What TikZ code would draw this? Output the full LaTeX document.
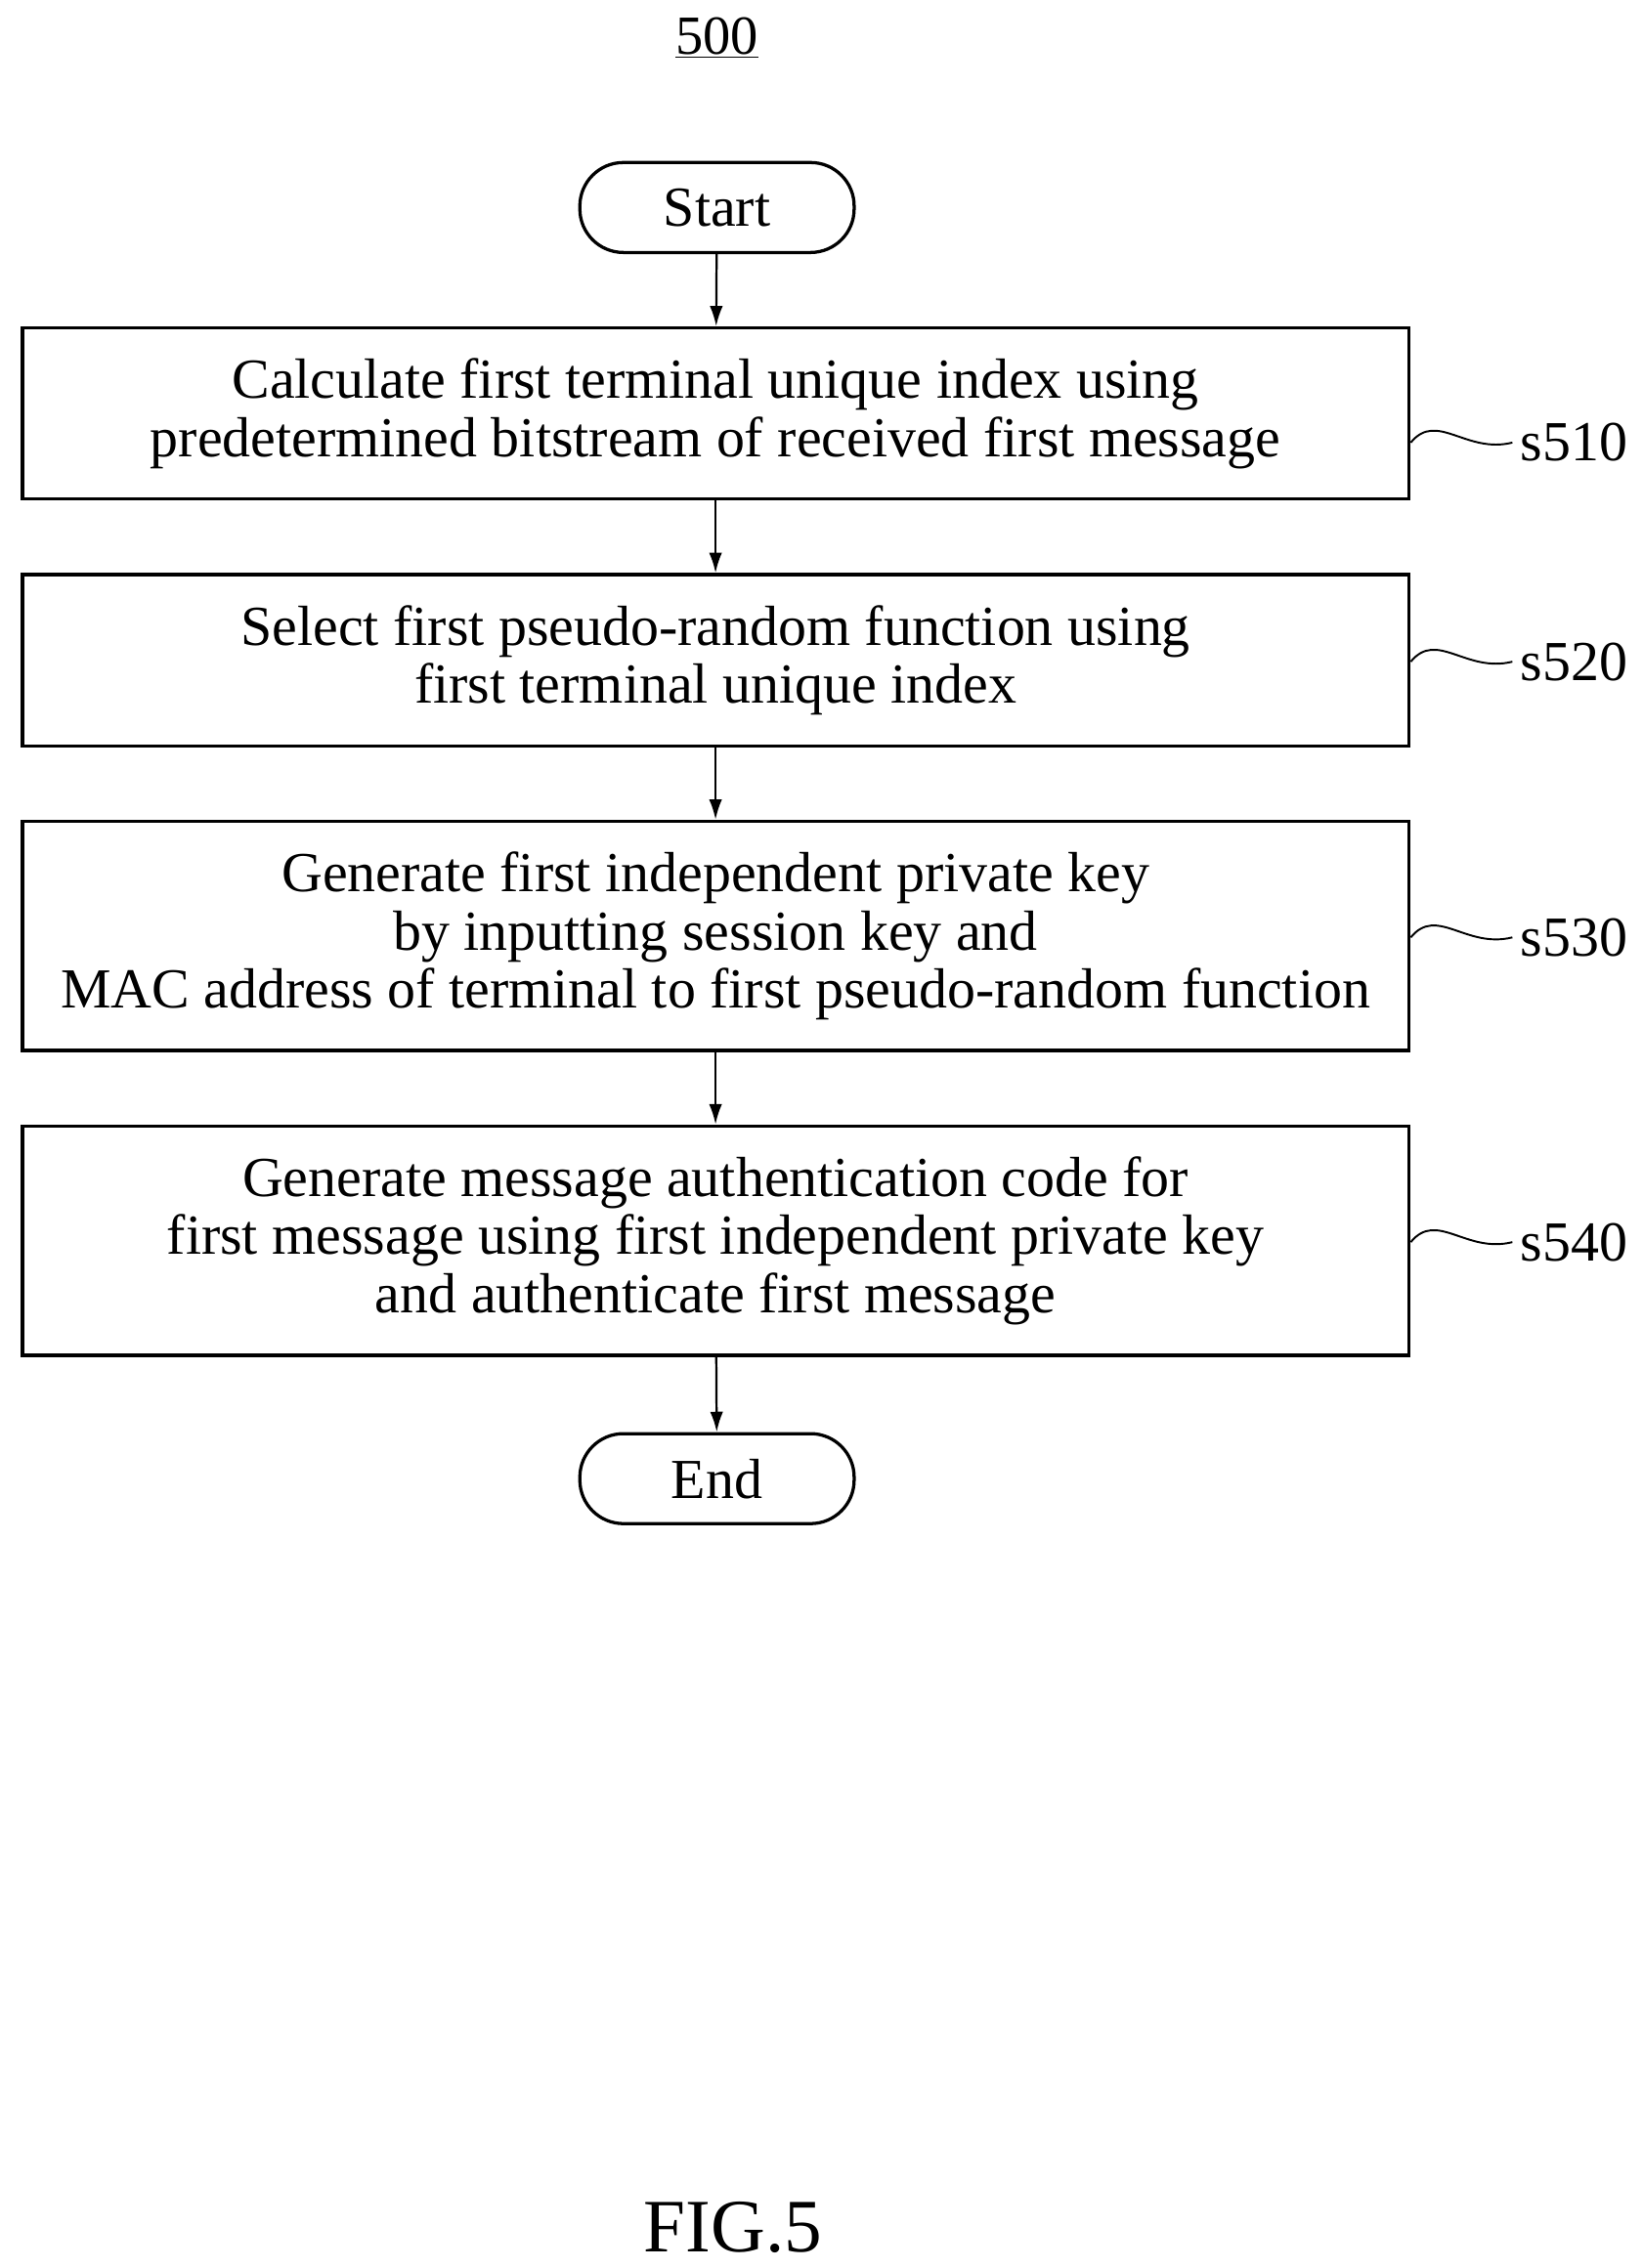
\documentclass[tikz,border=0pt]{standalone}
\usepackage{fontspec}
\setmainfont{Liberation Serif}
\usetikzlibrary{arrows.meta}
\begin{document}
\begin{tikzpicture}[x=1pt,y=-1pt,
  box/.style={draw,line width=2.2pt,minimum width=955pt,align=center,font=\fontsize{39}{40}\selectfont,inner sep=0pt},
  term/.style={draw,line width=2.2pt,rounded corners=30pt,minimum width=189pt,minimum height=62pt,font=\fontsize{39}{40}\selectfont},
  arr/.style={-{Latex[length=14pt,width=9pt]},line width=1.5pt},
  lab/.style={font=\fontsize{39}{40}\selectfont,anchor=west},
  sq/.style={line width=1.3pt}]
\useasboundingbox (0,0) rectangle (1132,1563);
\node[font=\fontsize{38}{40}\selectfont] (n500) at (494,26) {\underline{500}};
\node[term] (start) at (494,143) {Start};
\node[box,minimum height=118pt] (b1) at (493,285) {Calculate first terminal unique index using\\predetermined bitstream of received first message};
\node[box,minimum height=118pt] (b2) at (493,455) {Select first pseudo-random function using\\first terminal unique index};
\node[box,minimum height=158pt] (b3) at (493,645) {Generate first independent private key\\by inputting session key and\\MAC address of terminal to first pseudo-random function};
\node[box,minimum height=158pt] (b4) at (493,855) {Generate message authentication code for\\first message using first independent private key\\and authenticate first message};
\node[term] (end) at (494,1019) {End};
\draw[arr] (start) -- (b1);
\draw[arr] (b1) -- (b2);
\draw[arr] (b2) -- (b3);
\draw[arr] (b3) -- (b4);
\draw[arr] (b4) -- (end);
\foreach \b/\y/\t in {b1/305/s510,b2/456/s520,b3/646/s530,b4/856/s540}{
  \node[lab] (l\t) at (1044,\y) {\t};
  \coordinate (c\t) at (1042,\y);
  \draw[sq] (972,\y) .. controls (990,\y-22) and (1010,\y+8) .. (c\t);
}
\node[font=\fontsize{52}{56}\selectfont] (fig) at (505,1535) {FIG.5};
\end{tikzpicture}
\end{document}
